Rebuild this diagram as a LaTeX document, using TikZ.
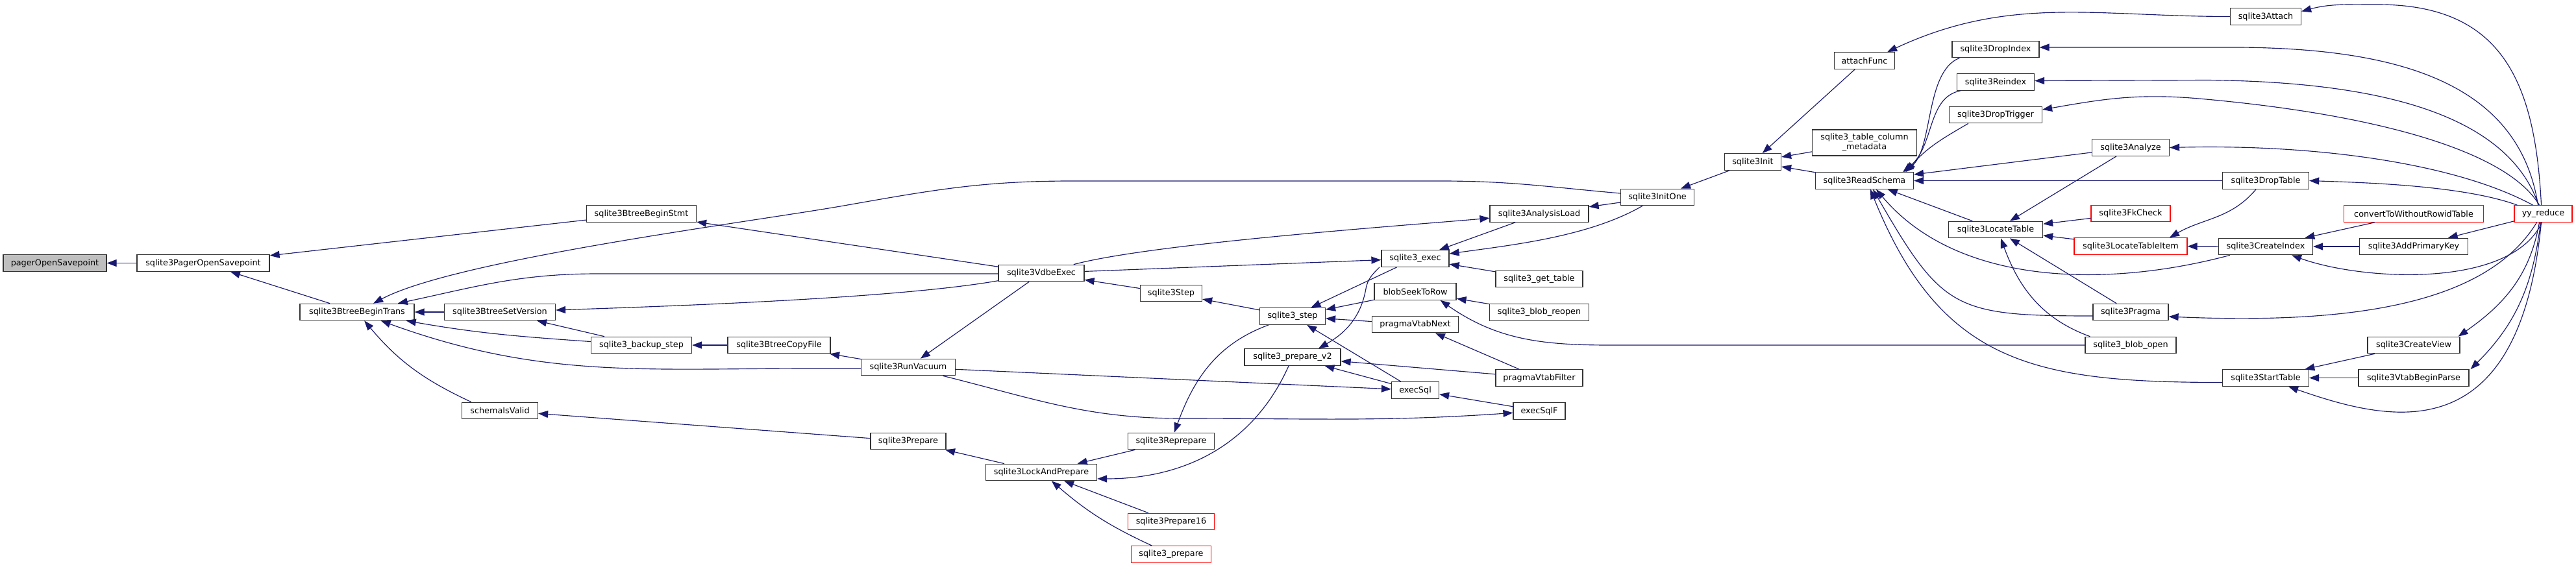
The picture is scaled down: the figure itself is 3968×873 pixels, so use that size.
\documentclass[tikz,border=0pt]{standalone}
\usepackage{fontspec}
\setmainfont{DejaVu Sans}
\usepackage{tikz}
\usetikzlibrary{arrows.meta}
\definecolor{edgeblue}{RGB}{25,25,112}
\definecolor{rootgrey}{RGB}{191,191,191}

\begin{document}
\begin{tikzpicture}[
      x=1pt, y=1pt,
      font=\fontsize{12.8}{15}\selectfont,
      fn/.style={draw=black!80, line width=1.2pt, fill=white, minimum height=25.5pt, inner sep=0pt, align=center},
      root/.style={fn, fill=rootgrey},
      trunc/.style={fn, draw=red},
      call/.style={draw=edgeblue, line width=1.15pt, arrows={Triangle[length=15pt,width=11pt]-}}
    ]
    % ---- canvas: 1pt per pixel of the 3968 x 873 graph ----
    \fill[white] (0,0) rectangle (3968,-873);
    \useasboundingbox (0,0) rectangle (3968,-873);

    % ---- functions, column by column ----
    \node[root, minimum width=159pt] (pos) at (84.5,-405.5) {pagerOpenSavepoint};
    \node[fn, minimum width=204pt] (pager) at (313,-405.5) {sqlite3PagerOpenSavepoint};
    \node[fn, minimum width=176pt] (beginTrans) at (550,-481) {sqlite3BtreeBeginTrans};
    \node[fn, minimum width=171pt] (setVersion) at (770,-481) {sqlite3BtreeSetVersion};
    \node[fn, minimum width=117pt] (schemaValid) at (770,-633) {schemaIsValid};
    \node[fn, minimum width=169pt] (beginStmt) at (988,-329.5) {sqlite3BtreeBeginStmt};
    \node[fn, minimum width=155pt] (backupStep) at (988,-532) {sqlite3\_backup\_step};
    \node[fn, minimum width=158pt] (copyFile) at (1200,-532) {sqlite3BtreeCopyFile};
    \node[fn, minimum width=145pt] (runVacuum) at (1399,-566) {sqlite3RunVacuum};
    \node[fn, minimum width=116pt] (prepareA) at (1399,-680) {sqlite3Prepare};
    \node[fn, minimum width=132pt] (vdbeExec) at (1604,-421) {sqlite3VdbeExec};
    \node[fn, minimum width=171pt] (lockPrepare) at (1604,-728) {sqlite3LockAndPrepare};
    \node[fn, minimum width=95pt] (stepV) at (1804,-452) {sqlite3Step};
    \node[fn, minimum width=133pt] (reprepare) at (1804,-680) {sqlite3Reprepare};
    \node[trunc, minimum width=133pt] (prepare16) at (1804,-804) {sqlite3Prepare16};
    \node[trunc, minimum width=123pt] (prepareB) at (1804,-854.5) {sqlite3\_prepare};
    \node[fn, minimum width=101pt] (step) at (1991,-487.5) {sqlite3\_step};
    \node[fn, minimum width=148pt] (prepareV2) at (1991,-550.5) {sqlite3\_prepare\_v2};
    \node[fn, minimum width=104pt] (exec) at (2180,-398.5) {sqlite3\_exec};
    \node[fn, minimum width=126pt] (blobSeek) at (2180,-449.5) {blobSeekToRow};
    \node[fn, minimum width=133pt] (vtabNext) at (2180,-500) {pragmaVtabNext};
    \node[fn, minimum width=73pt] (execSql) at (2180,-601.5) {execSql};
    \node[fn, minimum width=152pt] (analysisLoad) at (2371,-329.5) {sqlite3AnalysisLoad};
    \node[fn, minimum width=134pt] (getTable) at (2371,-430) {sqlite3\_get\_table};
    \node[fn, minimum width=153pt] (blobReopen) at (2371,-481.5) {sqlite3\_blob\_reopen};
    \node[fn, minimum width=134pt] (vtabFilter) at (2371,-582.5) {pragmaVtabFilter};
    \node[fn, minimum width=80pt] (execSqlF) at (2371,-633.5) {execSqlF};
    \node[fn, minimum width=113pt] (initOne) at (2553,-304) {sqlite3InitOne};
    \node[fn, minimum width=87pt] (init) at (2700,-249.5) {sqlite3Init};
    \node[fn, minimum width=93pt] (attachFunc) at (2872,-93.5) {attachFunc};
    \node[fn, minimum width=161pt, minimum height=40pt] (tableMeta) at (2872,-220) {sqlite3\_table\_column\\\_metadata};
    \node[fn, minimum width=151pt] (readSchema) at (2872,-278.5) {sqlite3ReadSchema};
    \node[fn, minimum width=134pt] (dropIndex) at (3074,-76) {sqlite3DropIndex};
    \node[fn, minimum width=119pt] (reindex) at (3074,-126.5) {sqlite3Reindex};
    \node[fn, minimum width=143pt] (dropTrigger) at (3074,-177) {sqlite3DropTrigger};
    \node[fn, minimum width=145pt] (locateTable) at (3074,-354) {sqlite3LocateTable};
    \node[fn, minimum width=119pt] (analyze) at (3282,-227.5) {sqlite3Analyze};
    \node[trunc, minimum width=122pt] (fkCheck) at (3282,-329) {sqlite3FkCheck};
    \node[trunc, minimum width=174pt] (locateItem) at (3282,-379.5) {sqlite3LocateTableItem};
    \node[fn, minimum width=116pt] (pragma) at (3282,-481) {sqlite3Pragma};
    \node[fn, minimum width=140pt] (blobOpen) at (3282,-532) {sqlite3\_blob\_open};
    \node[fn, minimum width=109pt] (attach) at (3490,-25.5) {sqlite3Attach};
    \node[fn, minimum width=133pt] (dropTable) at (3490,-278.5) {sqlite3DropTable};
    \node[fn, minimum width=145pt] (createIndex) at (3490,-380) {sqlite3CreateIndex};
    \node[fn, minimum width=133pt] (startTable) at (3490,-582.5) {sqlite3StartTable};
    \node[trunc, minimum width=215pt] (convertRowid) at (3718,-329.5) {convertToWithoutRowidTable};
    \node[fn, minimum width=167pt] (addPK) at (3718,-380) {sqlite3AddPrimaryKey};
    \node[fn, minimum width=142pt] (createView) at (3718,-532) {sqlite3CreateView};
    \node[fn, minimum width=170pt] (vtabBegin) at (3718,-582.5) {sqlite3VtabBeginParse};
    \node[trunc, minimum width=89pt] (yyReduce) at (3917.5,-329.5) {yy\_reduce};

    % ---- pager and b-tree callers ----
    \draw[call] (pos) -- (pager);
    \draw[call] (pager) -- (beginStmt);
    \draw[call] (pager) -- (beginTrans);
    \draw[call] (beginTrans) to[out=28,in=190,looseness=0.5] (1300,-317) to[out=10,in=180] (1650,-279)
      -- (2220,-279) to[out=0,in=175] ([yshift=6pt]initOne.west);
    \draw[call] (beginTrans) to[out=12,in=180] (920,-422) -- ([yshift=-1pt]vdbeExec.west);
    \draw[call] (beginTrans) -- (setVersion);
    \draw[call] (beginTrans) to[out=-10,in=176] (backupStep);
    \draw[call] (beginTrans) to[out=-20,in=180] (1250,-568) -- ([yshift=-2pt]runVacuum.west);
    \draw[call] (beginTrans) to[out=-50,in=155] ([xshift=15pt]schemaValid.north west);
    \draw[call] (setVersion) to[out=2,in=190,looseness=0.6] (vdbeExec);
    \draw[call] (setVersion) -- (backupStep);
    \draw[call] (beginStmt) -- (vdbeExec);
    \draw[call] (backupStep) -- (copyFile);
    \draw[call] (copyFile) -- (runVacuum);
    \draw[call] (schemaValid) -- (prepareA);

    % ---- vdbe, prepare and step ----
    \draw[call] (vdbeExec) -- (stepV);
    \draw[call] (runVacuum) -- (vdbeExec);
    \draw[call] (analysisLoad) to[out=185,in=15,looseness=0.5] (vdbeExec);
    \draw[call] (exec) -- (vdbeExec);
    \draw[call] (stepV) -- (step);
    \draw[call] (execSql) -- (runVacuum);
    \draw[call] (execSqlF) to[out=184,in=0] (1820,-645) to[out=180,in=-14] (runVacuum);
    \draw[call] (prepareA) -- (lockPrepare);
    \draw[call] (lockPrepare) -- (reprepare);
    \draw[call] (lockPrepare) -- (prepare16);
    \draw[call] (lockPrepare) to[bend right=8] (prepareB);
    \draw[call] ([yshift=-10pt]lockPrepare.east) to[out=0,in=-114] (prepareV2);
    \draw[call] (reprepare) to[out=70,in=200] (step);
    \draw[call] (step) -- (exec);
    \draw[call] ([xshift=40pt]prepareV2.north) to[out=30,in=-100] (2104,-445)
      to[out=80,in=-135] ([xshift=-55pt]exec.south);
    \draw[call] (step) -- (blobSeek);
    \draw[call] (step) -- (vtabNext);
    \draw[call] (step) -- (execSql);
    \draw[call] (prepareV2) -- (vtabFilter);
    \draw[call] (prepareV2) -- (execSql);
    \draw[call] (vtabNext) -- (vtabFilter);
    \draw[call] (execSql) -- (execSqlF);
    \draw[call] (blobSeek) -- (blobReopen);
    \draw[call] ([xshift=-25pt]blobSeek.south east) to[out=-35,in=180] (2480,-532) -- (blobOpen);
    \draw[call] (exec) -- (analysisLoad);
    \draw[call] (exec) to[out=8,in=-150,looseness=0.8] ([xshift=-23pt]initOne.south);
    \draw[call] (exec) -- (getTable);
    \draw[call] (analysisLoad) -- (initOne);
    \draw[call] (initOne) -- (init);

    % ---- schema loading ----
    \draw[call] (init) -- (attachFunc);
    \draw[call] (init) -- (tableMeta);
    \draw[call] (init) -- (readSchema);
    \draw[call] ([xshift=-12pt]attachFunc.north east) to[out=25,in=180] (attach);
    \draw[call] ([xshift=-15pt]readSchema.north east) .. controls (2978,-230) and (2965,-110) .. ([xshift=12pt]dropIndex.south west);
    \draw[call] ([xshift=-17pt]readSchema.north east) .. controls (2980,-225) and (2968,-150) .. ([xshift=6pt]reindex.south west);
    \draw[call] ([xshift=-12pt]readSchema.north east) to[out=50,in=-150] ([xshift=30pt]dropTrigger.south west);
    \draw[call] (readSchema) -- (analyze);
    \draw[call] (readSchema) -- (dropTable);
    \draw[call] (readSchema) -- (locateTable);
    \draw[call] ([xshift=18pt]readSchema.south) to[out=-50,in=195,looseness=0.9] ([xshift=-55pt]createIndex.south);
    \draw[call] ([xshift=13pt]readSchema.south) to[out=-60,in=180,looseness=1.4] ([yshift=-6pt]pragma.west);
    \draw[call] ([xshift=9pt]readSchema.south) to[out=-68,in=180,looseness=1.2] ([yshift=-7pt]startTable.west);
    \draw[call] (locateTable) -- (analyze);
    \draw[call] (locateTable) -- (fkCheck);
    \draw[call] (locateTable) -- (locateItem);
    \draw[call] ([xshift=8pt]locateTable.south) to[out=-70,in=160] ([xshift=8pt]blobOpen.north west);
    \draw[call] (locateTable) -- (pragma);

    % ---- parser entry points ----
    \draw[call] ([yshift=8pt]attach.east) to[out=15,in=180] (3662,-7)
      .. controls (3850,-7) and (3905,-120) .. ([xshift=-3pt]yyReduce.north);
    \draw[call] ([yshift=3pt]dropIndex.east) -- (3450,-73)
      .. controls (3700,-75) and (3880,-130) .. ([xshift=-8pt]yyReduce.north);
    \draw[call] ([yshift=2pt]reindex.east) -- (3400,-123.5)
      .. controls (3650,-126) and (3860,-170) .. ([xshift=-7pt]yyReduce.north);
    \draw[call] ([yshift=8pt]dropTrigger.east) to[out=10,in=175] (3387,-152)
      .. controls (3650,-175) and (3860,-230) .. ([xshift=-6pt]yyReduce.north);
    \draw[call] (analyze.east) .. controls (3560,-222) and (3780,-250) .. ([xshift=-16pt]yyReduce.north);
    \draw[call] (dropTable.east) to[out=-2,in=160,looseness=0.7] ([xshift=-40pt]yyReduce.north);
    \draw[call] ([xshift=60pt]locateItem.north) to[out=30,in=-130] ([xshift=-15pt]dropTable.south);
    \draw[call] (locateItem) -- (createIndex);
    \draw[call] (createIndex) -- (convertRowid);
    \draw[call] (createIndex) -- (addPK);
    \draw[call] ([xshift=40pt]createIndex.south) to[out=-20,in=-115,looseness=0.75] ([xshift=-2pt]yyReduce.south);
    \draw[call] (addPK) -- (yyReduce);
    \draw[call] ([yshift=-7pt]pragma.east) .. controls (3620,-500) and (3830,-470) .. ([xshift=-10pt]yyReduce.south);
    \draw[call] ([xshift=-3pt]createView.north east) to[out=35,in=-100] ([xshift=-6pt]yyReduce.south);
    \draw[call] ([xshift=2pt]vtabBegin.north east) to[out=45,in=-97] ([xshift=-4pt]yyReduce.south);
    \draw[call] ([xshift=35pt]startTable.south) .. controls (3680,-650) and (3880,-700) .. ([xshift=-3pt]yyReduce.south);
    \draw[call] (startTable) -- (createView);
    \draw[call] (startTable) -- (vtabBegin);
  \end{tikzpicture}
\end{document}
